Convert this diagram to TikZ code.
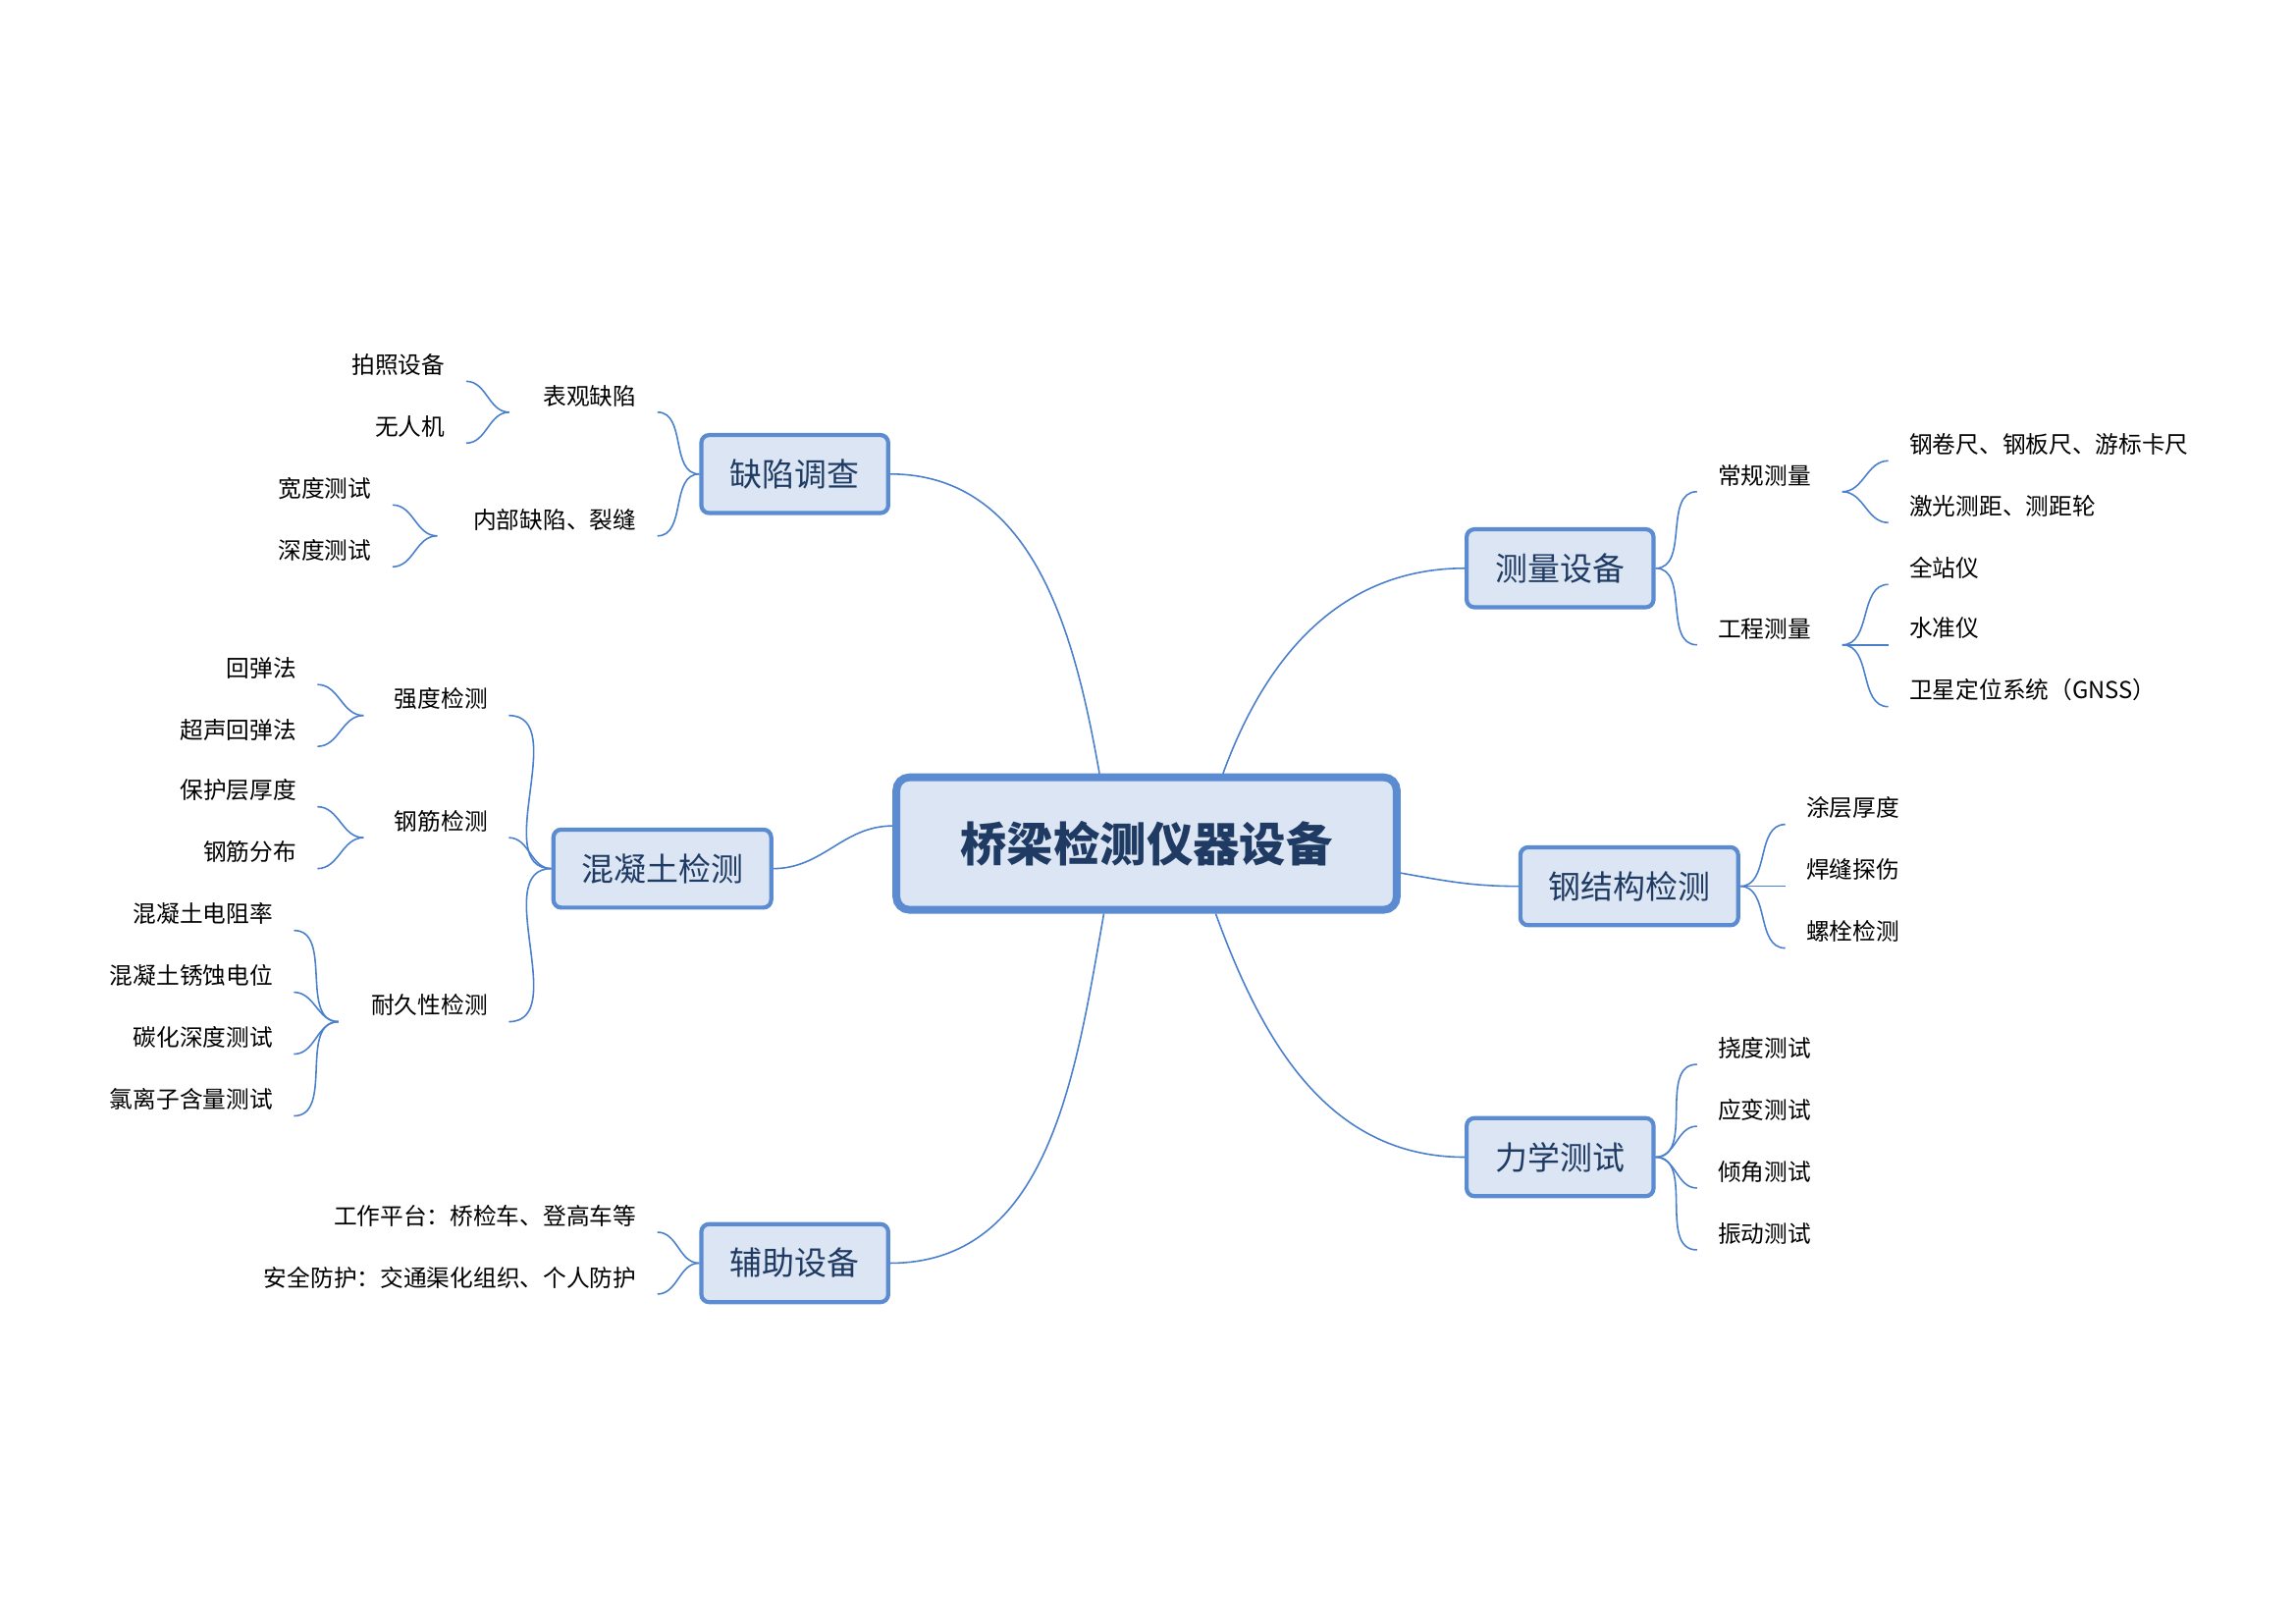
\documentclass[tikz,border=0pt]{standalone}
\usepackage{fontspec}
\setmainfont{Noto Sans CJK SC}
\definecolor{boxline}{HTML}{5B8BD0}
\definecolor{boxfill}{HTML}{DBE5F3}
\definecolor{boxtext}{HTML}{1F3B63}
\definecolor{linkc}{HTML}{4A7FCC}
\tikzset{
  centerbox/.style={draw=boxline, line width=3pt, fill=boxfill, rounded corners=5pt,
    minimum width=6.8cm, minimum height=1.8cm, text=boxtext, font=\fontsize{18}{20}\selectfont\bfseries},
  branchbox/.style={draw=boxline, line width=1.6pt, fill=boxfill, rounded corners=3pt,
    minimum height=1.06cm, text=boxtext, font=\fontsize{12.5}{14}\selectfont},
  leafnode/.style={inner xsep=0.28cm, inner ysep=2pt, font=\fontsize{9}{10}\selectfont,
    append after command={[draw=boxline, line width=1.4pt]
      (\tikzlastnode.south west) -- (\tikzlastnode.south east)}},
  link/.style={draw=linkc, line width=0.6pt},
}
% leaf: name, left x, right x, line y, text, alignment
\newcommand{\leaf}[6]{%
  \pgfmathsetmacro\leafw{(#3-#2-28)*0.02}%
  \node[leafnode, anchor=south west, text width=\leafw cm, align=#6] (#1) at (#2,#4) {#5};}
\begin{document}
\begin{tikzpicture}[x=0.02cm, y=-0.02cm]
  \useasboundingbox (0,0) rectangle (1560,1103);

  % centre and branches
  \node[centerbox] (root) at (779,573) {桥梁检测仪器设备};
  \node[branchbox, minimum width=2.54cm] (defect) at (540,322) {缺陷调查};
  \node[branchbox, minimum width=2.96cm] (concrete) at (450,590) {混凝土检测};
  \node[branchbox, minimum width=2.54cm] (aux) at (540,858) {辅助设备};
  \node[branchbox, minimum width=2.54cm] (survey) at (1060,386) {测量设备};
  \node[branchbox, minimum width=2.96cm] (steel) at (1107,602) {钢结构检测};
  \node[branchbox, minimum width=2.54cm] (mech) at (1060,786) {力学测试};

  \draw[link] ([xshift=-0.64cm]root.north) to[out=100, in=0] (defect.east);
  \draw[link] ([xshift=1.04cm]root.north) to[out=70, in=180] (survey.west);
  \draw[link] ([yshift=-0.4cm]root.east) to[out=-10, in=180] (steel.west);
  \draw[link] ([xshift=0.94cm]root.south) to[out=-70, in=180] (mech.west);
  \draw[link] ([xshift=-0.58cm]root.south) to[out=-100, in=0] (aux.east);
  \draw[link] ([yshift=0.24cm]root.west) to[out=180, in=0] (concrete.east);

  % left side leaves
  \leaf{look}{346}{446}{280}{表观缺陷}{right}
  \leaf{inner}{297}{446}{364}{内部缺陷、裂缝}{right}
  \leaf{photo}{219}{316}{259}{拍照设备}{right}
  \leaf{drone}{237}{316}{301}{无人机}{right}
  \leaf{width}{167}{266}{343}{宽度测试}{right}
  \leaf{depth}{167}{266}{385}{深度测试}{right}
  \foreach \c in {look,inner} \draw[link] (defect.west) to[out=180, in=0] (\c.south east);
  \foreach \c in {photo,drone} \draw[link] (look.south west) to[out=180, in=0] (\c.south east);
  \foreach \c in {width,depth} \draw[link] (inner.south west) to[out=180, in=0] (\c.south east);

  \leaf{strength}{247}{345}{486}{强度检测}{right}
  \leaf{rebar}{247}{345}{569}{钢筋检测}{right}
  \leaf{durable}{230}{345}{694}{耐久性检测}{right}
  \leaf{rebound}{135}{215}{465}{回弹法}{right}
  \leaf{ultra}{101}{215}{507}{超声回弹法}{right}
  \leaf{cover}{101}{215}{548}{保护层厚度}{right}
  \leaf{layout}{118}{215}{590}{钢筋分布}{right}
  \leaf{resist}{67}{199}{632}{混凝土电阻率}{right}
  \leaf{corros}{50}{199}{674}{混凝土锈蚀电位}{right}
  \leaf{carbon}{67}{199}{716}{碳化深度测试}{right}
  \leaf{chlor}{50}{199}{758}{氯离子含量测试}{right}
  \foreach \c in {strength,rebar,durable} \draw[link] (concrete.west) to[out=180, in=0] (\c.south east);
  \foreach \c in {rebound,ultra} \draw[link] (strength.south west) to[out=180, in=0] (\c.south east);
  \foreach \c in {cover,layout} \draw[link] (rebar.south west) to[out=180, in=0] (\c.south east);
  \foreach \c in {resist,corros,carbon,chlor} \draw[link] (durable.south west) to[out=180, in=0] (\c.south east);

  \leaf{platform}{195}{446}{837}{工作平台：桥检车、登高车等}{right}
  \leaf{safety}{144}{446}{879}{安全防护：交通渠化组织、个人防护}{right}
  \foreach \c in {platform,safety} \draw[link] (aux.west) to[out=180, in=0] (\c.south east);

  % right side leaves
  \leaf{routine}{1153}{1251}{334}{常规测量}{left}
  \leaf{eng}{1153}{1251}{438}{工程测量}{left}
  \leaf{tape}{1283}{1516}{313}{钢卷尺、钢板尺、游标卡尺}{left}
  \leaf{laser}{1283}{1448}{355}{激光测距、测距轮}{left}
  \leaf{total}{1283}{1363}{397}{全站仪}{left}
  \leaf{level}{1283}{1363}{438}{水准仪}{left}
  \leaf{gnss}{1283}{1496}{480}{卫星定位系统（GNSS）}{left}
  \foreach \c in {routine,eng} \draw[link] (survey.east) to[out=0, in=180] (\c.south west);
  \foreach \c in {tape,laser} \draw[link] (routine.south east) to[out=0, in=180] (\c.south west);
  \foreach \c in {total,level,gnss} \draw[link] (eng.south east) to[out=0, in=180] (\c.south west);

  \leaf{coat}{1213}{1309}{560}{涂层厚度}{left}
  \leaf{weld}{1213}{1309}{602}{焊缝探伤}{left}
  \leaf{bolt}{1213}{1309}{644}{螺栓检测}{left}
  \foreach \c in {coat,weld,bolt} \draw[link] (steel.east) to[out=0, in=180] (\c.south west);

  \leaf{deflect}{1153}{1250}{723}{挠度测试}{left}
  \leaf{strain}{1153}{1250}{765}{应变测试}{left}
  \leaf{tilt}{1153}{1250}{807}{倾角测试}{left}
  \leaf{vibr}{1153}{1250}{849}{振动测试}{left}
  \foreach \c in {deflect,strain,tilt,vibr} \draw[link] (mech.east) to[out=0, in=180] (\c.south west);
\end{tikzpicture}
\end{document}
